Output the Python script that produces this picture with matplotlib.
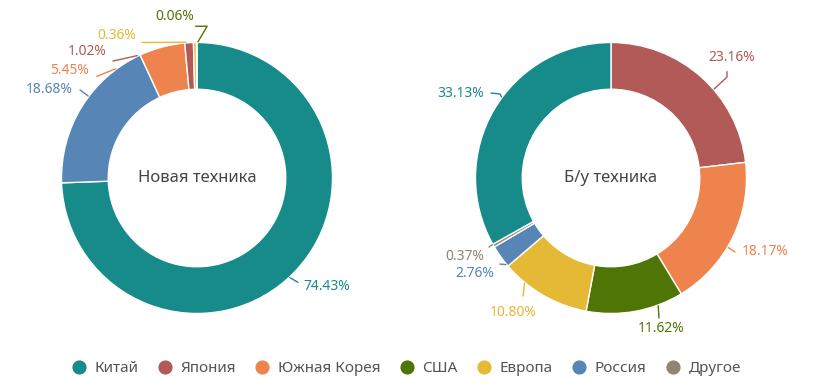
import matplotlib
matplotlib.use("Agg")
import matplotlib.pyplot as plt
from matplotlib.lines import Line2D
import numpy as np

plt.rcParams['font.family'] = ['Noto Sans', 'DejaVu Sans']

# ---------------- data ----------------
countries = ["Китай", "Япония", "Южная Корея", "США", "Европа", "Россия", "Другое"]
colors = ["#178b8a", "#b15a57", "#ef834e", "#4f7506", "#e5b935", "#5685b6", "#8f8571"]

new_title = "Новая техника"
new_labels = ["Китай", "Россия", "Южная Корея", "Япония", "Европа", "США"]
new_values = [74.43, 18.68, 5.45, 1.02, 0.36, 0.06]

used_title = "Б/у техника"
used_labels = ["Япония", "Южная Корея", "США", "Европа", "Россия", "Другое", "Китай"]
used_values = [23.16, 18.17, 11.62, 10.80, 2.76, 0.37, 33.13]

# ---------------- layout (label leader geometry, radius units) ----------------
# (ring angle deg, polyline points..., text x, text y, ha)
new_layout = [
    (-47, [(0.745, -0.77)], (0.782, -0.80), 'left'),
    (143, [(-0.863, 0.65)], (-0.915, 0.65), 'right'),
    (126.7, [(-0.74, 0.75)], (-0.80, 0.79), 'right'),
    (116, [(-0.62, 0.863)], (-0.665, 0.93), 'right'),
    (94.6, [(-0.406, 1.0)], (-0.45, 1.055), 'right'),
    (89.6, [(0.075, 1.12), (-0.01, 1.12)], (-0.02, 1.19), 'right'),
]
used_layout = [
    (40.8, [(0.856, 0.745), (0.856, 0.785)], (0.893, 0.89), 'center'),
    (-30.7, [(0.915, -0.546)], (0.967, -0.546), 'left'),
    (-69.7, [(0.354, -1.033)], (0.369, -1.114), 'center'),
    (-129.4, [(-0.649, -0.871)], (-0.723, -0.996), 'center'),
    (-140.5, [(-0.82, -0.635)], (-0.863, -0.708), 'right'),
    (-150.7, [(-0.90, -0.51)], (-0.937, -0.576), 'right'),
    (143.5, [(-0.819, 0.62), (-0.886, 0.627)], (-0.937, 0.627), 'right'),
]

W, H = 813, 389
fig = plt.figure(figsize=(W / 100, H / 100), dpi=100)
R = 135.5
L = 1.5


def make_ax(cx, cy):
    x0 = (cx - L * R) / W
    y0 = (H - cy - L * R) / H
    ax = fig.add_axes([x0, y0, 2 * L * R / W, 2 * L * R / H])
    return ax


def donut(ax, labels, values, layout, title, startangle):
    cols = [colors[countries.index(l)] for l in labels]
    ax.pie(values, colors=cols, startangle=startangle, counterclock=False,
           radius=1.0, wedgeprops=dict(width=0.345, edgecolor='white', linewidth=1.0))
    ax.set_xlim(-L, L)
    ax.set_ylim(-L, L)
    ax.set_aspect('equal')
    ax.axis('off')
    ax.text(0, 0, title, ha='center', va='center', fontsize=12, color='#444444')
    for val, col, (ang, pts, (tx, ty), ha) in zip(values, cols, layout):
        a = np.deg2rad(ang)
        xs = [np.cos(a) * 1.005] + [p[0] for p in pts]
        ys = [np.sin(a) * 1.005] + [p[1] for p in pts]
        ax.plot(xs, ys, color=col, lw=1.0, solid_capstyle='round')
        ax.text(tx, ty, f"{val:.2f}%", ha=ha, va='center', fontsize=10, color=col)


ax1 = make_ax(197, 178)
donut(ax1, new_labels, new_values, new_layout, new_title, 90)

ax2 = make_ax(611, 178)
donut(ax2, used_labels, used_values, used_layout, used_title, 90)

handles = [Line2D([0], [0], marker='o', linestyle='none', markersize=9.2,
                  markerfacecolor=c, markeredgecolor=c) for c in colors]
leg = fig.legend(handles, countries, ncol=7, loc='center',
                 bbox_to_anchor=(0.5, 1 - 369 / H), frameon=False,
                 fontsize=11, handlelength=0.85, handletextpad=0.6,
                 columnspacing=1.3, borderaxespad=0)
for t in leg.get_texts():
    t.set_color('#555555')

fig.savefig("out.png", dpi=100)
